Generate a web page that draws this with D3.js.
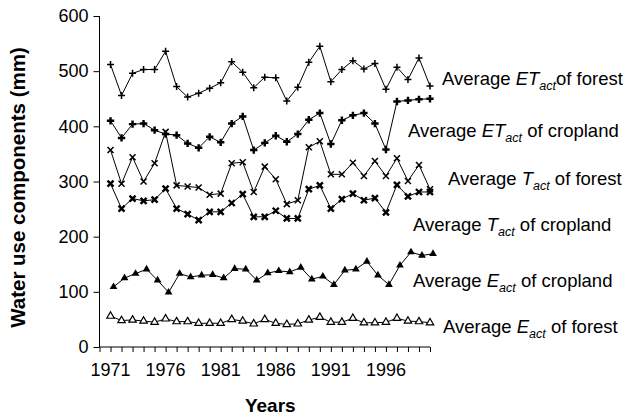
<!DOCTYPE html>
<html lang="en"><head>
<meta charset="utf-8">
<title>Water use components</title>
<script src="https://cdn.jsdelivr.net/npm/d3@7"></script>
<style>
body { margin: 0; background: #fff; }
text { font-family: "Liberation Sans", Arial, sans-serif; fill: #000; }
</style>
</head>
<body>
<script>

var width = 636;
var height = 418;

// data (mm), 1971..2000
var years = [1971,1972,1973,1974,1975,1976,1977,1978,1979,1980,
             1981,1982,1983,1984,1985,1986,1987,1988,1989,1990,
             1991,1992,1993,1994,1995,1996,1997,1998,1999,2000];
var yearTicks = [1971, 1976, 1981, 1986, 1991, 1996];
var valueTicks = [0, 100, 200, 300, 400, 500, 600];

var etForest = [512,456,496,503,503,536,472,453,460,469,479,517,498,470,489,488,446,471,516,545,481,503,519,504,514,467,507,485,524,473];
var etCrop   = [410,379,404,405,393,386,384,369,361,381,371,405,418,357,370,383,372,386,412,424,368,411,420,424,405,358,445,447,449,450];
var tForest  = [357,296,344,300,333,390,293,291,289,276,278,333,335,281,327,304,259,266,362,373,313,313,334,310,337,310,342,301,330,286];
var tCrop    = [296,251,269,265,267,287,251,241,230,245,245,261,277,236,236,247,233,233,286,293,251,268,278,266,270,244,294,273,281,281];
var eCrop    = [109,125,133,141,121,99,133,127,130,131,125,142,141,121,134,138,136,144,123,128,113,139,141,155,130,113,148,172,166,169];
var eForest  = [56,48,49,47,45,51,46,46,43,43,43,50,47,42,50,43,41,42,49,54,45,45,52,44,44,45,52,47,46,44];

var series = [
  {values: etForest, marker: "plus",     sym: "ET", side: "forest",   lx: 442, ly: 85},
  {values: etCrop,   marker: "boldplus", sym: "ET", side: "cropland", lx: 408, ly: 137},
  {values: tForest,  marker: "x",        sym: "T",  side: "forest",   lx: 448, ly: 185},
  {values: tCrop,    marker: "boldx",    sym: "T",  side: "cropland", lx: 413, ly: 231},
  {values: eCrop,    marker: "tri",      sym: "E",  side: "cropland", lx: 413, ly: 287, shift: 3},
  {values: eForest,  marker: "opentri",  sym: "E",  side: "forest",   lx: 443, ly: 333}
];

var svg = d3.select("body").append("svg")
  .attr("width", width)
  .attr("height", height);

var x = d3.scaleLinear().domain([1970, 2000]).range([99.5, 430]);
var y = d3.scaleLinear().domain([0, 600]).range([347, 16]);

// x axis: minor tick every year, labels every 5
var xAxis = svg.append("g")
  .attr("transform", "translate(0," + y(0) + ")")
  .call(d3.axisBottom(x).tickValues(d3.range(1970, 2001)).tickSize(5).tickFormat(""));
xAxis.select(".domain").attr("d", "M" + x(1970) + ",0H" + x(2000));
xAxis.selectAll("line").attr("stroke-width", 1);

svg.append("g")
  .attr("transform", "translate(0," + y(0) + ")")
  .selectAll("text")
  .data(yearTicks).enter()
  .append("text")
  .attr("x", function(d){ return x(d); })
  .attr("y", 29)
  .attr("text-anchor", "middle")
  .attr("font-size", 18)
  .text(function(d){ return d; });

var yAxis = svg.append("g")
  .attr("transform", "translate(" + x(1970) + ",0)")
  .call(d3.axisLeft(y).tickValues(valueTicks).tickSize(6).tickPadding(5));
yAxis.select(".domain").attr("d", "M0," + y(600) + "V" + y(0));
yAxis.selectAll("text").attr("font-size", 18).attr("font-family", "Liberation Sans, Arial, sans-serif");

svg.append("text")
  .attr("transform", "translate(25," + (y(300) + 6) + ") rotate(-90)")
  .attr("text-anchor", "middle")
  .attr("font-size", 20.5)
  .attr("font-weight", "bold")
  .text("Water use components (mm)");

svg.append("text")
  .attr("x", x(1985.5))
  .attr("y", 412)
  .attr("text-anchor", "middle")
  .attr("font-size", 19)
  .attr("font-weight", "bold")
  .text("Years");

var line = d3.line()
  .x(function(d, i){ return x(years[i]); })
  .y(function(d){ return y(d); });

function drawMarker(g, type) {
  if (type == "plus") {
    g.append("path").attr("d", "M-3.5,0H3.5M0,-3.5V3.5")
      .attr("stroke", "#000").attr("stroke-width", 1.5);
  } else if (type == "boldplus") {
    g.append("path").attr("d", d3.symbol().type(d3.symbolCross).size(30)())
      .attr("fill", "#000");
  } else if (type == "x") {
    g.append("path").attr("d", "M-3,-3L3,3M-3,3L3,-3")
      .attr("stroke", "#000").attr("stroke-width", 1.5);
  } else if (type == "boldx") {
    g.append("path").attr("d", "M-3,-3L3,3M-3,3L3,-3")
      .attr("stroke", "#000").attr("stroke-width", 2.4);
  } else if (type == "tri") {
    g.append("path").attr("d", d3.symbol().type(d3.symbolTriangle).size(26)())
      .attr("fill", "#000");
  } else {
    g.append("path").attr("d", d3.symbol().type(d3.symbolTriangle).size(24)())
      .attr("fill", "#fff").attr("stroke", "#000").attr("stroke-width", 1.2);
  }
}

series.forEach(function(s){
  var g = svg.append("g").attr("transform", "translate(" + (s.shift || 0) + ",0)");

  g.append("path")
    .datum(s.values)
    .attr("fill", "none")
    .attr("stroke", "#000")
    .attr("stroke-width", 1)
    .attr("d", line);

  g.selectAll(".pt")
    .data(s.values).enter()
    .append("g")
    .attr("class", "pt")
    .attr("transform", function(d, i){ return "translate(" + x(years[i]) + "," + y(d) + ")"; })
    .each(function(){ drawMarker(d3.select(this), s.marker); });

  var t = svg.append("text")
    .attr("x", s.lx)
    .attr("y", s.ly)
    .attr("font-size", 18.5);
  t.append("tspan").text("Average ");
  t.append("tspan").attr("font-style", "italic").text(s.sym);
  t.append("tspan").attr("font-style", "italic").attr("font-size", 12.5).attr("dy", 5).text("act");
  t.append("tspan").attr("dy", -5).text((s.sym == "ET" && s.side == "forest" ? "" : " ") + "of " + s.side);
});

</script>
</body></html>
